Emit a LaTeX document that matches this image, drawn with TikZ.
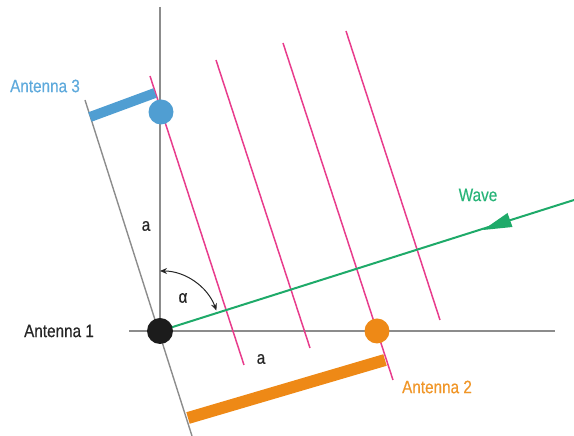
\documentclass[tikz,border=0pt]{standalone}
\usepackage{fontspec}
\setmainfont{Liberation Sans}[FakeStretch=0.85,FakeBold=0.4]
\usetikzlibrary{calc,arrows.meta}
\definecolor{axisgray}{RGB}{140,140,140}
\definecolor{wavepink}{RGB}{232,60,140}
\definecolor{wavegreen}{RGB}{30,170,105}
\definecolor{antorange}{RGB}{238,137,22}
\definecolor{antblue}{RGB}{80,158,210}
\definecolor{txtblue}{RGB}{95,170,220}
\definecolor{txtorange}{RGB}{240,150,40}
\definecolor{txtgreen}{RGB}{40,180,120}
\definecolor{dotblack}{RGB}{28,28,28}
\begin{document}
\begin{tikzpicture}[x=1pt,y=1pt,
  axis/.style={draw=axisgray,line width=1.4pt},
  front/.style={draw=wavepink,line width=1.5pt},
  dot/.style={circle,inner sep=0pt,minimum size=25pt},
  lbl/.style={inner sep=0pt,font=\fontsize{18}{20}\selectfont},
  bar/.style={line width=#1,line cap=butt}
]
\useasboundingbox (0,0) rectangle (574,436);
% coordinates
\coordinate (vtop) at (160,429);
\coordinate (hleft) at (129,105);
\coordinate (hright) at (555,105);
\coordinate (ttop) at (85,336);
\coordinate (tbot) at (192,0);
\coordinate (f1a) at (150,360); \coordinate (f1b) at (244,71);
\coordinate (f2a) at (216,376); \coordinate (f2b) at (310,88);
\coordinate (f3a) at (283,393); \coordinate (f3b) at (393,56);
\coordinate (f4a) at (346,405); \coordinate (f4b) at (440,116);
\coordinate (wend) at (574,236);
\coordinate (atip) at (483,206);
\coordinate (ab1) at (507.5,223);
\coordinate (ab2) at (512.5,209);
\coordinate (b3a) at (90,319); \coordinate (b3b) at (155,343);
\coordinate (b2a) at (188,18); \coordinate (b2b) at (385,76);
% axes
\draw[axis] (vtop) -- (160,105);
\draw[axis] (hleft) -- (hright);
\draw[axis] (ttop) -- (tbot);
% wavefronts
\draw[front] (f1a) -- (f1b);
\draw[front] (f2a) -- (f2b);
\draw[front] (f3a) -- (f3b);
\draw[front] (f4a) -- (f4b);
% antenna bars
\draw[antblue,bar=10pt] (b3a) -- (b3b);
\draw[antorange,bar=12pt] (b2a) -- (b2b);
% dots
\node[dot,fill=antblue] (ant3) at (161,324) {};
\node[dot,fill=antorange] (ant2) at (377,105) {};
% wave
\draw[wavegreen,line width=2pt] (160,105) -- (wend);
\fill[wavegreen] (atip) -- (ab1) -- (ab2) -- cycle;
\node[dot,fill=dotblack,minimum size=26pt] (ant1) at (160,105) {};
% angle
\draw[black!85,line width=1pt,{Stealth[length=7pt,width=6pt]}-{Stealth[length=7pt,width=6pt]}]
  ($(ant1.center)+(90:60)$) arc[start angle=90,end angle=20,radius=60];
% labels
\node[lbl,text=txtblue] (l3) at (45,350) {Antenna 3};
\node[lbl,text=black!85] (l1) at (59,105) {Antenna 1};
\node[lbl,text=txtorange] (l2) at (437,49) {Antenna 2};
\node[lbl,text=txtgreen] (lw) at (478,241) {Wave};
\node[lbl,text=black!85] (la1) at (146,210) {a};
\node[lbl,text=black!85] (la2) at (261,77) {a};
\node[lbl,text=black!85] (lal) at (183,138) {α};
\end{tikzpicture}
\end{document}
